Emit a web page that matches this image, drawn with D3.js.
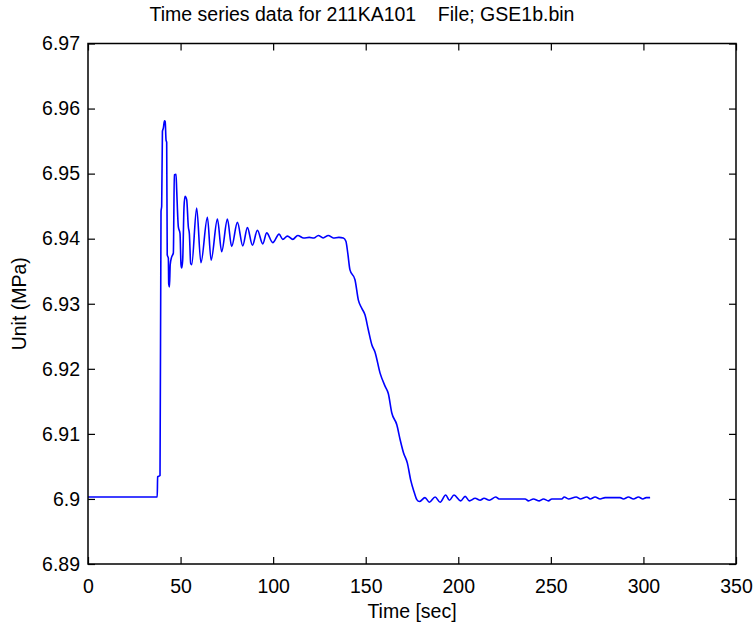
<!DOCTYPE html>
<html>
<head>
<meta charset="utf-8">
<script src="https://cdn.jsdelivr.net/npm/d3@7"></script>
<style>
  body { margin: 0; background: #fff; }
  text { font-family: "Liberation Sans", Arial, Helvetica, sans-serif; fill: #000; }
</style>
</head>
<body>
<script>
//////////////////////////////////////////////////////////////////////////////
// #region Data
//

var titleText = "Time series data for 211KA101    File; GSE1b.bin";
var xLabelText = "Time [sec]";
var yLabelText = "Unit (MPa)";

var xTicks = [0, 50, 100, 150, 200, 250, 300, 350];
var yTicks = [6.89, 6.90, 6.91, 6.92, 6.93, 6.94, 6.95, 6.96, 6.97];
var yTickLabels = ["6.89", "6.9", "6.91", "6.92", "6.93", "6.94", "6.95", "6.96", "6.97"];

var timeSec = [
    0, 37.4, 37.6, 38.9, 39.44, 39.8, 40.2, 40.7, 41.3, 41.7, 42.14,
    42.5, 42.8, 43.4, 43.6, 44.0, 44.4, 45.2, 46.1, 46.64, 47.54,
    47.9, 48.8, 49.7, 50.24, 50.6, 51.14, 51.86, 52.4, 53.3, 54.2,
    54.74, 55.47, 56.01, 58.7,
    61.0, 64.5, 66.5, 69.9, 72.2, 75.3, 77.6, 80.7, 83.6, 86.1,
    88.8, 91.5, 94.4, 96.5, 99.8, 103.2, 105.2, 107.7, 110.6, 113.3,
    116.5, 119.5, 122.0, 124.4, 127.0, 129.8, 132.5, 135.5, 137.9, 139.3,
    140.3, 141.5, 144.2, 146.0, 147.9, 149.6, 151.4, 153.3, 155.0, 157.8,
    160.5, 162.2, 164.1, 166.8, 168.6, 170.4, 172.5, 174.3, 176.1, 177.6,
    179.0, 182.0, 184.4, 187.5, 190.2, 193.2, 195.2, 197.7, 201.3, 203.7,
    206.0, 209.1, 211.8, 213.9, 216.8, 220.2, 222.0, 236.1, 237.9, 240.6,
    243.8, 246.0, 248.7, 250.5, 255.9, 257.2, 259.5, 263.7, 265.8, 269.4,
    271.2, 273.9, 276.6, 279.3, 287.4, 289.2, 291.9, 294.6, 297.3, 299.7,
    301.5, 303.6
];

var pressure = [
    6.9003, 6.9003, 6.9034, 6.9036, 6.9442, 6.9450, 6.9565, 6.9570, 6.9581, 6.9580, 6.9552,
    6.9548, 6.9375, 6.9370, 6.9330, 6.9326, 6.9360, 6.9372, 6.9378, 6.9498, 6.9499,
    6.9475, 6.9418, 6.9408, 6.9360, 6.9355, 6.9367, 6.9449, 6.9465, 6.9460, 6.9418,
    6.9408, 6.9362, 6.9360, 6.9447,
    6.9363, 6.9433, 6.9367, 6.9430, 6.9380, 6.9430, 6.9388, 6.9425, 6.9389, 6.9417,
    6.9390, 6.9413, 6.9392, 6.9409, 6.9394, 6.9407, 6.9399, 6.9404, 6.9399, 6.9405,
    6.9401, 6.9402, 6.9401, 6.9405, 6.9401, 6.9405, 6.9401, 6.9402, 6.9401, 6.9396,
    6.9378, 6.9352, 6.9337, 6.9306, 6.9293, 6.9283, 6.9260, 6.9237, 6.9226, 6.9193,
    6.9173, 6.9162, 6.9132, 6.9114, 6.9091, 6.9071, 6.9055, 6.9029, 6.9011, 6.8999,
    6.8996, 6.9002, 6.8995, 6.9003, 6.8995, 6.9006, 6.8998, 6.9006, 6.8997, 6.9004,
    6.8997, 6.9001, 6.8998, 6.9001, 6.8998, 6.9003, 6.9000, 6.9000, 6.8997, 6.9000,
    6.8997, 6.9000, 6.8997, 6.9000, 6.9000, 6.9003, 6.9000, 6.9003, 6.9000, 6.9003,
    6.9000, 6.9003, 6.9000, 6.9002, 6.9002, 6.9000, 6.9003, 6.9000, 6.9003, 6.9000,
    6.9002, 6.9002
];

//
// #endregion Data
//////////////////////////////////////////////////////////////////////////////

//////////////////////////////////////////////////////////////////////////////
// #region Drawing Code
//

var W = 755, H = 627;
var margin = { top: 43.5, right: 19, bottom: 63, left: 88 };
var width = W - margin.left - margin.right;
var height = H - margin.top - margin.bottom;
var tickLen = 7;

var svg = d3.select("body").append("svg")
    .attr("width", W)
    .attr("height", H);

var g = svg.append("g")
    .attr("transform", "translate(" + margin.left + "," + margin.top + ")");

var x = d3.scaleLinear().domain([0, 350]).range([0, width]);
var y = d3.scaleLinear().domain([6.89, 6.97]).range([height, 0]);

var series = timeSec.map(function(t, i) { return [t, pressure[i]]; });

var line = d3.line()
    .curve(d3.curveMonotoneX)
    .x(function(d) { return x(d[0]); })
    .y(function(d) { return y(d[1]); });

g.append("path")
    .datum(series)
    .attr("fill", "none")
    .attr("stroke", "#0000ff")
    .attr("stroke-width", 1.6)
    .attr("stroke-linejoin", "round")
    .attr("d", line);

// ticks point inward on all four sides, matlab style
function styleAxis(sel) {
    sel.select(".domain").remove();
    sel.selectAll(".tick line").attr("stroke", "#000").attr("stroke-width", 1.2);
    sel.selectAll(".tick text").style("font-size", "19.5px");
}

g.append("g")
    .attr("transform", "translate(0," + height + ")")
    .call(d3.axisBottom(x).tickValues(xTicks).tickSize(-tickLen).tickPadding(15)
        .tickFormat(d3.format("d")))
    .call(styleAxis);

g.append("g")
    .call(d3.axisTop(x).tickValues(xTicks).tickSize(-tickLen).tickFormat(""))
    .call(styleAxis);

g.append("g")
    .call(d3.axisLeft(y).tickValues(yTicks).tickSize(-tickLen).tickPadding(8)
        .tickFormat(function(d, i) { return yTickLabels[i]; }))
    .call(styleAxis);

g.append("g")
    .attr("transform", "translate(" + width + ",0)")
    .call(d3.axisRight(y).tickValues(yTicks).tickSize(-tickLen).tickFormat(""))
    .call(styleAxis);

g.append("rect")
    .attr("width", width)
    .attr("height", height)
    .attr("fill", "none")
    .attr("stroke", "#000")
    .attr("stroke-width", 1.5);

svg.append("text")
    .attr("x", 362)
    .attr("y", 21)
    .attr("text-anchor", "middle")
    .style("font-size", "19.5px")
    .style("white-space", "pre")
    .text(titleText);

svg.append("text")
    .attr("x", margin.left + width / 2)
    .attr("y", 618)
    .attr("text-anchor", "middle")
    .style("font-size", "19.5px")
    .text(xLabelText);

svg.append("text")
    .attr("transform", "translate(26," + (margin.top + height / 2) + ")rotate(-90)")
    .attr("text-anchor", "middle")
    .style("font-size", "19.5px")
    .text(yLabelText);

//
// #endregion Drawing Code
//////////////////////////////////////////////////////////////////////////////
</script>
</body>
</html>
